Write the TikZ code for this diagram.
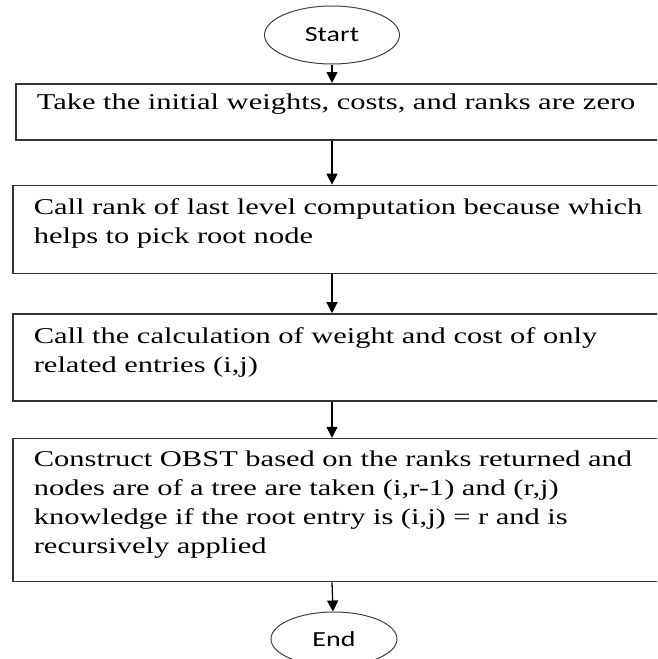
\documentclass[tikz,border=0pt]{standalone}
\usepackage{fontspec}
\setmainfont{Liberation Serif}[FakeStretch=1.35]
\newfontfamily\termfont{Carlito}[FakeStretch=1.3]
\usetikzlibrary{shapes.geometric, arrows.meta, positioning}
\tikzset{
  terminal/.style = {ellipse, draw=black!75, line width=1pt, inner sep=0pt,
                     minimum width=135pt, minimum height=58pt,
                     font=\termfont\fontsize{21.5pt}{25pt}\selectfont},
  stepbox/.style  = {rectangle, draw=black!80, line width=1.6pt, anchor=north west,
                     align=left, text width=616pt, inner xsep=21pt, inner ysep=0pt,
                     font=\fontsize{22.6pt}{29pt}\selectfont},
  arrow/.style    = {line width=1.3pt, -{Triangle[width=11pt,length=11pt]}}
}

\begin{document}
\begin{tikzpicture}
  \path[use as bounding box, clip] (0,0) rectangle (657pt,-659pt);

  % Terminals
  \node (start) [terminal] at (332pt,-35pt) {Start};

  % Processing steps
  \node (init) [stepbox, text height=26pt, text depth=30pt] at (15pt,-83pt)
    {Take the initial weights, costs, and ranks are zero};
  \node (rank) [stepbox, below=44pt of init.south west, anchor=north west, xshift=-3pt,
                text height=29pt, text depth=59pt]
    {Call rank of last level computation because which\\helps to pick root node};
  \node (calc) [stepbox, below=39pt of rank.south west, anchor=north west,
                text height=29pt, text depth=58pt]
    {Call the calculation of weight and cost of only\\related entries (i,j)};
  \node (obst) [stepbox, below=36pt of calc.south west, anchor=north west,
                text height=28pt, text depth=115pt]
    {Construct OBST based on the ranks returned and\\
     nodes are of a tree are taken (i,r-1) and (r,j)\\
     knowledge if the root entry is (i,j) = r and is\\
     recursively applied};

  \node (end) [terminal, minimum width=126pt, minimum height=54pt] at (334pt,-639pt) {End};

  % Arrows down the flow
  \draw[arrow] (start)              -- (start |- init.north);
  \draw[arrow] (init.south -| start) -- (rank.north -| start);
  \draw[arrow] (rank.south -| start) -- (calc.north -| start);
  \draw[arrow] (calc.south -| start) -- (obst.north -| start);
  \draw[arrow] (obst.south -| start) -- (end);
\end{tikzpicture}
\end{document}
